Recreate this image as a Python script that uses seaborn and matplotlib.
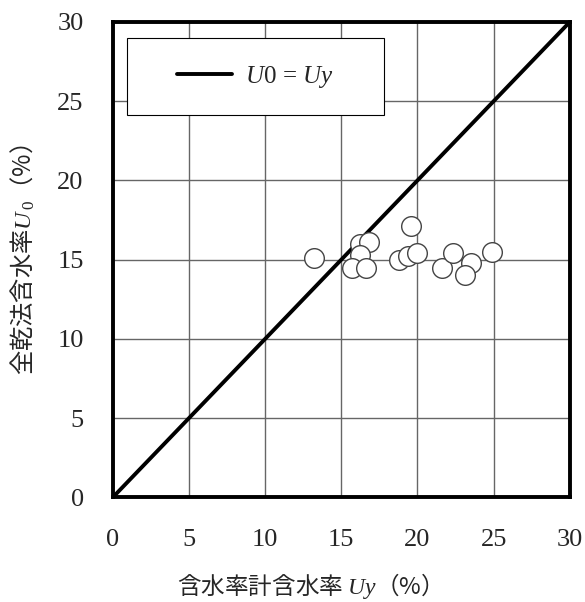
import matplotlib
matplotlib.use("Agg")
import matplotlib.pyplot as plt
from matplotlib.patches import Rectangle
import seaborn as sns
import pandas as pd

# data
uy = [13.2, 16.2, 16.8, 16.2, 15.7, 16.6, 19.6, 18.8, 19.4, 20.0, 21.6, 22.3, 23.5, 23.1, 24.9]
u0 = [15.1, 16.0, 16.1, 15.3, 14.5, 14.5, 17.1, 15.0, 15.2, 15.4, 14.5, 15.4, 14.8, 14.0, 15.5]
line_x = [0, 30]
line_y = [0, 30]
ticks = [0, 5, 10, 15, 20, 25, 30]

sns.set_theme(style="white")
plt.rcParams['font.family'] = ['Noto Sans CJK JP', 'DejaVu Sans']
plt.rcParams['mathtext.fontset'] = 'custom'
plt.rcParams['mathtext.rm'] = 'Liberation Serif'
plt.rcParams['mathtext.it'] = 'Liberation Serif:italic'
plt.rcParams['mathtext.bf'] = 'Liberation Serif:bold'

fig = plt.figure(figsize=(5.85, 6.02), dpi=100)
ax = fig.add_axes([0.193, 0.174, 0.781, 0.7895])

df = pd.DataFrame({"uy": uy, "u0": u0})
ldf = pd.DataFrame({"x": line_x, "y": line_y})

sns.lineplot(data=ldf, x="x", y="y", ax=ax, color="black", linewidth=2.8,
             label=r"$\mathit{U0}\,\mathrm{=}\,\mathit{Uy}$", zorder=3)
sns.scatterplot(data=df, x="uy", y="u0", ax=ax, s=200, facecolor="white",
                edgecolor="#444444", linewidth=1.0, zorder=4, legend=False)

ax.set_xlim(0, 30)
ax.set_ylim(0, 30)
ax.set_xticks(ticks)
ax.set_yticks(ticks)
ax.set_xticklabels([str(t) for t in ticks], family="Liberation Serif", fontsize=19)
ax.set_yticklabels([str(t) for t in ticks], family="Liberation Serif", fontsize=19)
ax.tick_params(axis="x", length=0, pad=23)
ax.tick_params(axis="y", length=0, pad=21)
ax.grid(True, color="#666666", linewidth=1.0)
ax.set_axisbelow(True)
for s in ax.spines.values():
    s.set_color("black")
    s.set_linewidth(2.8)

ax.set_xlabel(r"含水率計含水率 $\mathit{Uy}$（%）", fontsize=17, va="center")
ax.xaxis.set_label_coords(0.416, -0.186)
ax.set_ylabel(r"全乾法含水率$\mathit{U}_{\,\mathit{0}}$（%）", fontsize=17.5, va="center")
ax.yaxis.set_label_coords(-0.195, 0.5)

# legend frame box
ax.add_patch(Rectangle((0.0306, 0.804), 0.5624, 0.162, transform=ax.transAxes,
                       facecolor="white", edgecolor="black", linewidth=0.8, zorder=5))
leg = ax.legend(loc="center", bbox_to_anchor=(0.312, 0.885), frameon=False,
                fontsize=18, handlelength=2.2, handletextpad=0.5, borderaxespad=0)
leg.set_zorder(6)

fig.savefig("out.png", dpi=100, facecolor="white")
